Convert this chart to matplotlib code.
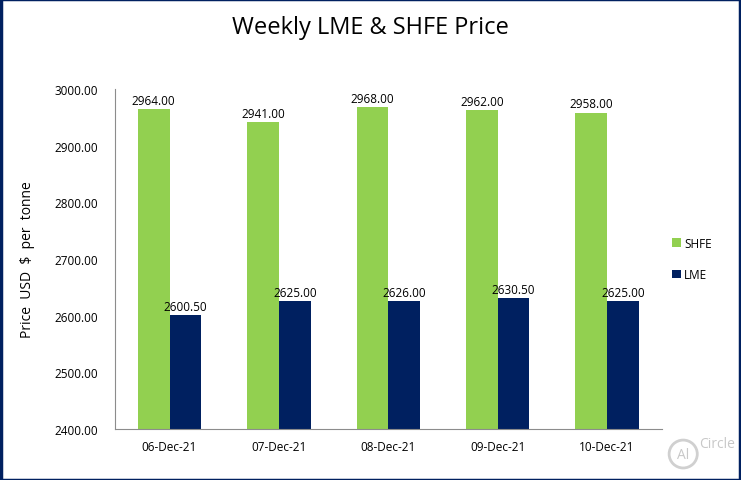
import matplotlib
matplotlib.use("Agg")
import matplotlib.pyplot as plt
import numpy as np
from matplotlib.patches import Rectangle, Ellipse

plt.rcParams['font.family'] = ['Open Sans', 'DejaVu Sans']

dates = ["06-Dec-21", "07-Dec-21", "08-Dec-21", "09-Dec-21", "10-Dec-21"]
shfe = [2964.00, 2941.00, 2968.00, 2962.00, 2958.00]
lme = [2600.50, 2625.00, 2626.00, 2630.50, 2625.00]
yticks = [2400, 2500, 2600, 2700, 2800, 2900, 3000]

green = "#92D050"
navy = "#002060"

fig = plt.figure(figsize=(7.41, 4.81), dpi=100)
ax = fig.add_axes([0.155, 0.106, 0.738, 0.707])

x = np.arange(len(dates))
w = 0.29
b1 = ax.bar(x - w / 2, shfe, w, color=green, label="SHFE")
b2 = ax.bar(x + w / 2, lme, w, color=navy, label="LME")

for bars, vals in [(b1, shfe), (b2, lme)]:
    for r, v in zip(bars, vals):
        ax.text(r.get_x() + r.get_width() / 2, v + 4, f"{v:.2f}",
                ha="center", va="bottom", fontsize=8.5, color="black")

ax.set_ylim(2400, 3000)
ax.set_yticks(yticks)
ax.set_yticklabels([f"{t:.2f}" for t in yticks], fontsize=8.5)
ax.set_xlim(-0.5, len(dates) - 0.5)
ax.set_xticks(x)
ax.set_xticklabels(dates, fontsize=8.5)
ax.tick_params(length=0, pad=12)
ax.tick_params(axis="x", pad=8)
for s in ["top", "right"]:
    ax.spines[s].set_visible(False)
for s in ["left", "bottom"]:
    ax.spines[s].set_color("#8c8c8c")
ax.set_ylabel("Price  USD  $  per  tonne", fontsize=10, labelpad=14)

ax.legend(loc="center left", bbox_to_anchor=(1.0, 0.5), frameon=False,
          fontsize=8.5, handlelength=0.7, handleheight=0.7, labelspacing=1.6,
          handletextpad=0.3)

fig.text(0.5, 0.942, "Weekly LME & SHFE Price", ha="center", va="center", fontsize=17)

# watermark
fig.patches.append(Ellipse((0.922, 0.054), 0.038, 0.058, transform=fig.transFigure,
                           fill=False, edgecolor="#d0d0d0", lw=2))
fig.text(0.922, 0.054, "Al", ha="center", va="center", fontsize=10,
         color="#c8c8c8")
fig.text(0.944, 0.075, "Circle", ha="left", va="center", fontsize=10,
         color="#c8c8c8")

# outer border
fig.patches.append(Rectangle((0.001, 0.001), 0.998, 0.998, transform=fig.transFigure,
                             fill=False, edgecolor=navy, lw=2.5))

fig.savefig("out.png", dpi=100)
